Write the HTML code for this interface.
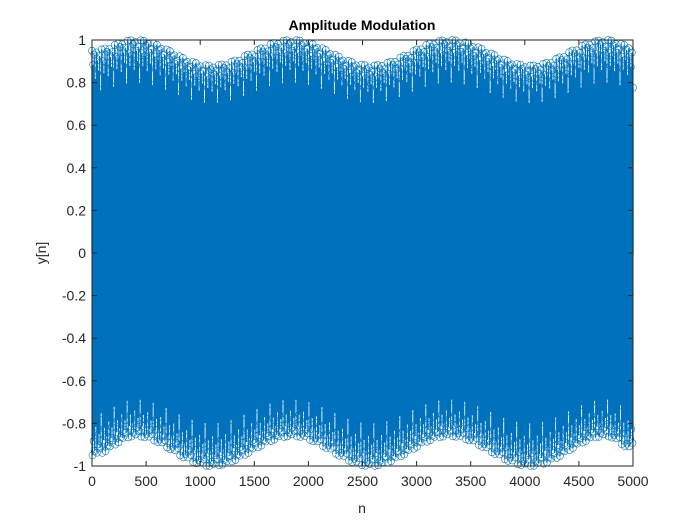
<!DOCTYPE html>
<html><head><meta charset="utf-8"><style>
body{margin:0;background:#fff}
svg{display:block;font-family:"Liberation Sans",Arial,sans-serif}
</style></head><body>
<svg id="chart" width="700" height="525">
<rect width="700" height="525" fill="#fff"/>
<text x="362" y="30" text-anchor="middle" font-weight="bold" font-size="14" fill="#000">Amplitude Modulation</text>
<rect x="92" y="40" width="541" height="426" fill="#fff"/>
<g id="stems"></g>
<rect x="92" y="40" width="541" height="426" fill="none" stroke="#262626" stroke-width="1"/>
<g id="ticks"></g>
<text x="362" y="513" text-anchor="middle" font-size="14" fill="#262626">n</text>
<text x="0" y="0" transform="translate(46,253) rotate(-90)" text-anchor="middle" font-size="14" fill="#262626">y[n]</text>
</svg>
<script>
const envN=[0,400,1100,1850,2575,3300,4050,4750,5000];
const envUpper=[0.95,1.0,0.88,1.0,0.88,1.0,0.88,1.0,0.97];
const envLower=[-0.95,-0.86,-1.0,-0.86,-1.0,-0.86,-1.0,-0.86,-0.92];
const ampFrac=[1,0.93,0.98,0.86,0.99,0.95,0.9,0.97,0.8,1,0.94,0.88];
const xTicks=[0,500,1000,1500,2000,2500,3000,3500,4000,4500,5000];
const yTicks=[-1,-0.8,-0.6,-0.4,-0.2,0,0.2,0.4,0.6,0.8,1];
const nStep=5;
const X0=92,X1=633,Y0=466,Y1=40;
const xs=n=>X0+(n-0)/5000*(X1-X0);
const ys=v=>Y0-(v+1)/2*(Y0-Y1);
function env(arr,n){for(let i=0;i<envN.length-1;i++){if(n<=envN[i+1]){const t=(n-envN[i])/(envN[i+1]-envN[i]);const s=(1-Math.cos(Math.PI*t))/2;return arr[i]+(arr[i+1]-arr[i])*s;}}return arr[arr.length-1];}
const NS="http://www.w3.org/2000/svg";
const g=document.getElementById('stems');
let d='',c='';
let k=0;
for(let n=0;n<=5000;n+=nStep,k++){
  const f=ampFrac[Math.floor(k/2)%ampFrac.length];
  const v=((k%2===0)?env(envUpper,n):env(envLower,n))*f;
  const x=xs(n).toFixed(1),y=ys(v).toFixed(1);
  d+=`M${x} ${ys(0).toFixed(1)}V${y}`;
  c+=`M${(+x+3.5).toFixed(1)} ${y}a3.5 3.5 0 1 0 -7 0a3.5 3.5 0 1 0 7 0`;
}
const p=document.createElementNS(NS,'path');
p.setAttribute('d',d);p.setAttribute('stroke','#0072BD');p.setAttribute('stroke-width','1.3');p.setAttribute('fill','none');


g.appendChild(p);
const m=document.createElementNS(NS,'path');
m.setAttribute('d',c);m.setAttribute('stroke','#0072BD');m.setAttribute('stroke-width','0.6');m.setAttribute('fill','none');


g.appendChild(m);
const t=document.getElementById('ticks');
xTicks.forEach(v=>{const x=xs(v);
  const l=document.createElementNS(NS,'path');l.setAttribute('d',`M${x} ${Y0}v-5M${x} ${Y1}v5`);l.setAttribute('stroke','#262626');
  
  
  t.appendChild(l);
  const tx=document.createElementNS(NS,'text');tx.setAttribute('x',x);tx.setAttribute('y',Y0+20);tx.setAttribute('text-anchor','middle');tx.setAttribute('font-size','14');tx.setAttribute('fill','#262626');tx.textContent=v;
  
  
  t.appendChild(tx);});
yTicks.forEach(v=>{const y=ys(v);
  const l=document.createElementNS(NS,'path');l.setAttribute('d',`M${X0} ${y}h5M${X1} ${y}h-5`);l.setAttribute('stroke','#262626');
  
  
  t.appendChild(l);
  const tx=document.createElementNS(NS,'text');tx.setAttribute('x',X0-6);tx.setAttribute('y',y+5);tx.setAttribute('text-anchor','end');tx.setAttribute('font-size','14');tx.setAttribute('fill','#262626');tx.textContent=String(v);
  
  
  t.appendChild(tx);});
</script>
</body></html>
